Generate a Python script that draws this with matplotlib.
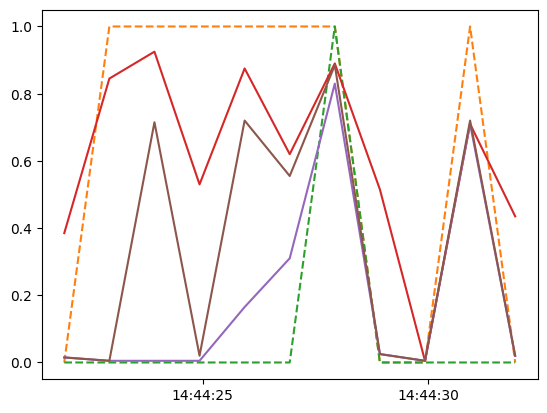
import matplotlib
matplotlib.use("Agg")
import matplotlib.pyplot as plt
import matplotlib.dates as mdates
import pandas as pd

times = pd.date_range("2023-01-01 14:44:21.930", periods=11, freq="s")

orange = [0, 1, 1, 1, 1, 1, 1, 0, 0, 1, 0]
green = [0, 0, 0, 0, 0, 0, 1, 0, 0, 0, 0]
red = [0.385, 0.845, 0.925, 0.53, 0.875, 0.62, 0.89, 0.515, 0.005, 0.71, 0.435]
purple = [0.015, 0.005, 0.005, 0.005, 0.165, 0.31, 0.83, 0.025, 0.005, 0.71, 0.02]
brown = [0.015, 0.005, 0.715, 0.02, 0.72, 0.555, 0.885, 0.025, 0.005, 0.72, 0.02]

fig, ax = plt.subplots(figsize=(6.4, 4.8), dpi=100)
ax.plot(times, orange, color="C1", linestyle="--")
ax.plot(times, green, color="C2", linestyle="--")
ax.plot(times, red, color="C3")
ax.plot(times, purple, color="C4")
ax.plot(times, brown, color="C5")

ax.xaxis.set_major_locator(mdates.SecondLocator(bysecond=range(0, 60, 5)))
ax.xaxis.set_major_formatter(mdates.DateFormatter("%H:%M:%S"))

fig.savefig("out.png", dpi=100, bbox_inches="tight")
